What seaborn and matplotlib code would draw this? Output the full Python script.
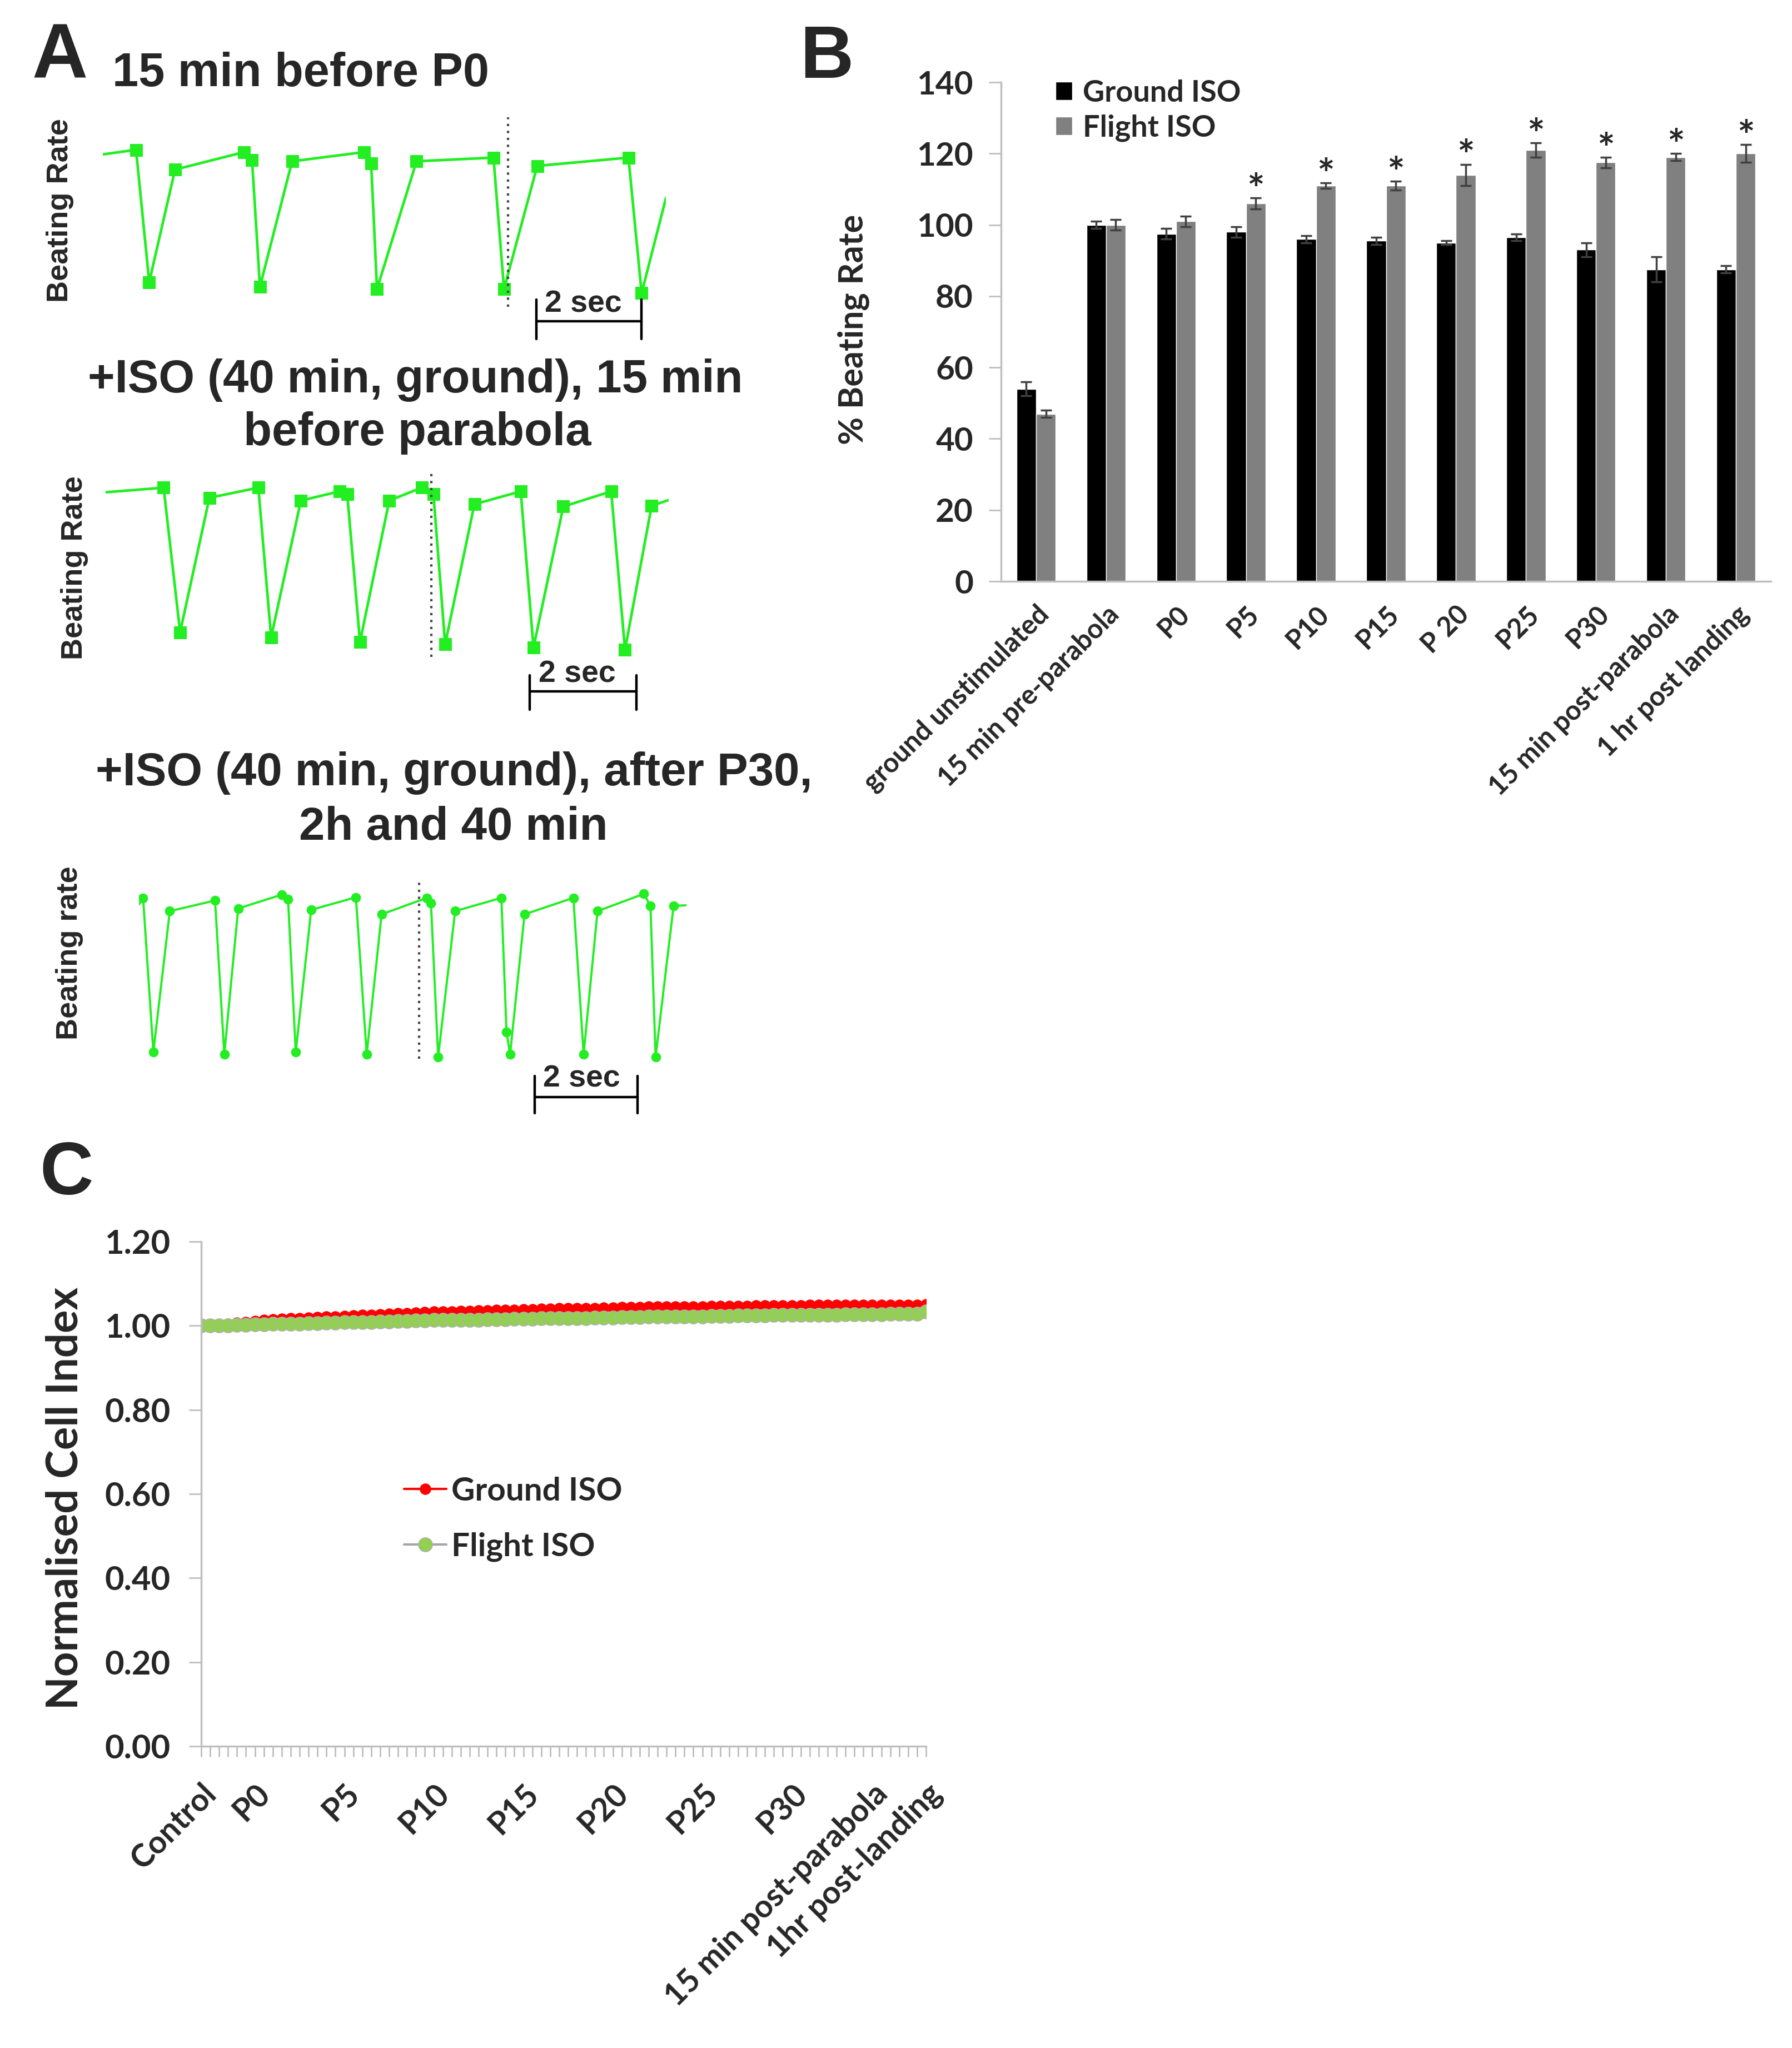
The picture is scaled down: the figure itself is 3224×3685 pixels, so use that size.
import numpy as np
import pandas as pd
import matplotlib
matplotlib.use('Agg')
import matplotlib.pyplot as plt
import seaborn as sns

# ---- panel A: beating-rate traces (time in s, rate in arbitrary units) ----
trace1_time = [0.00, 0.63, 0.88, 1.37, 2.68, 2.83, 2.98, 3.59, 4.96, 5.09, 5.20, 5.95,
               7.41, 7.61, 8.24, 9.97, 10.22, 10.68]
trace1_rate = [365, 375, 88, 332, 370, 353, 78, 350, 370, 345, 73, 350,
               358, 73, 340, 358, 64, 270]

trace2_time = [0.00, 1.09, 1.40, 1.95, 2.87, 3.11, 3.67, 4.40, 4.54, 4.78, 5.33, 5.94,
               6.16, 6.38, 6.93, 7.80, 8.04, 8.60, 9.50, 9.76, 10.26, 10.58]
trace2_rate = [382, 392, 78, 370, 392, 67, 364, 384, 378, 57, 364, 392,
               378, 52, 356, 384, 45, 351, 384, 40, 353, 365]

trace3_time = [0.00, 0.08, 0.28, 0.60, 1.48, 1.66, 1.93, 2.78, 2.90, 3.05, 3.35, 4.22,
               4.43, 4.72, 5.60, 5.68, 5.82, 6.15, 7.05, 7.15, 7.22, 7.50, 8.45, 8.65,
               8.92, 9.82, 9.95, 10.05, 10.40, 10.65]
trace3_rate = [615, 640, 60, 590, 630, 52, 600, 652, 635, 60, 595, 642,
               52, 578, 640, 620, 42, 590, 640, 135, 52, 578, 640, 52,
               590, 655, 610, 42, 610, 612]

trace_titles = [["15 min before P0"],
                ["+ISO (40 min, ground), 15 min", "before parabola"],
                ["+ISO (40 min, ground), after P30,", "2h and 40 min"]]
trace_ylabels = ["Beating Rate", "Beating Rate", "Beating rate"]
parabola_marks = [7.69, 6.12, 5.45]

# ---- panel B: % beating rate ----
categories_b = ["ground unstimulated", "15 min pre-parabola", "P0", "P5", "P10", "P15",
                "P 20", "P25", "P30", "15 min post-parabola", "1 hr post landing"]
ground_rate = [54, 100, 97.5, 98, 96, 95.5, 95, 96.5, 93, 87.5, 87.5]
ground_err = [2, 1, 1.5, 1.5, 1, 1, 0.5, 1, 2, 3.5, 1]
flight_rate = [47, 100, 101, 106, 111, 111, 114, 121, 117.5, 119, 120]
flight_err = [1, 1.5, 1.5, 1.5, 0.8, 1.2, 3, 2, 1.5, 1, 2.5]
significant = ["P5", "P10", "P15", "P 20", "P25", "P30", "15 min post-parabola", "1 hr post landing"]

# ---- panel C: normalised cell index ----
ground_ci = [1.000, 1.001, 1.003, 1.005, 1.007, 1.009, 1.011, 1.013, 1.015, 1.016,
             1.017, 1.018, 1.019, 1.020, 1.021, 1.022, 1.023, 1.024, 1.025, 1.026,
             1.027, 1.028, 1.029, 1.030, 1.031, 1.032, 1.033, 1.034, 1.034, 1.035,
             1.035, 1.036, 1.036, 1.037, 1.038, 1.038, 1.039, 1.039, 1.040, 1.040,
             1.041, 1.041, 1.042, 1.042, 1.042, 1.043, 1.043, 1.044, 1.044, 1.044,
             1.045, 1.045, 1.045, 1.046, 1.046, 1.046, 1.046, 1.047, 1.047, 1.047,
             1.047, 1.047, 1.048, 1.048, 1.048, 1.048, 1.048, 1.048, 1.049, 1.049,
             1.049, 1.049, 1.049, 1.049, 1.049, 1.049, 1.049, 1.050, 1.050, 1.050,
             1.050, 1.051]
flight_ci = [1.000, 1.000, 1.001, 1.001, 1.002, 1.002, 1.003, 1.003, 1.004, 1.004,
             1.005, 1.005, 1.006, 1.006, 1.007, 1.007, 1.008, 1.008, 1.009, 1.009,
             1.010, 1.010, 1.011, 1.011, 1.012, 1.012, 1.013, 1.013, 1.013, 1.014,
             1.014, 1.014, 1.015, 1.015, 1.015, 1.016, 1.016, 1.016, 1.017, 1.017,
             1.017, 1.018, 1.018, 1.018, 1.019, 1.019, 1.019, 1.020, 1.020, 1.020,
             1.021, 1.021, 1.021, 1.022, 1.022, 1.022, 1.022, 1.023, 1.023, 1.023,
             1.024, 1.024, 1.024, 1.024, 1.025, 1.025, 1.025, 1.025, 1.026, 1.026,
             1.026, 1.026, 1.027, 1.027, 1.027, 1.027, 1.027, 1.028, 1.028, 1.028,
             1.028, 1.033]
ci_labels = {0: "Control", 6: "P0", 16: "P5", 26: "P10", 36: "P15", 46: "P20",
             56: "P25", 66: "P30", 75: "15 min post-parabola", 81: "1hr post-landing"}

W, H = 3224, 3685
GREEN = '#22ee22'
AXIS_GREY = '#bfbfbf'
ARIAL = ['Liberation Sans', 'DejaVu Sans']

sns.set_style('white')
plt.rcParams['font.family'] = ['Lato', 'DejaVu Sans']
plt.rcParams['font.weight'] = 'bold'
plt.rcParams['axes.labelweight'] = 'bold'

fig = plt.figure(figsize=(W / 100, H / 100), dpi=100)


def px_rect(x0, y0, x1, y1):
    return [x0 / W, 1 - y1 / H, (x1 - x0) / W, (y1 - y0) / H]


def fig_text(x, y, s, **kw):
    fig.text(x / W, 1 - y / H, s, **kw)


# ------------------------------------------------------------------ A
fig_text(108, 104, "A", fontsize=100, family=ARIAL, ha='center', va='center')

trace_setup = [
    dict(t=trace1_time, v=trace1_rate, rect=(185, 199, 1198, 622), ylim=(-50, 460),
         marker='s', ms=16, lw=3.4, dot=(35, 445), bar=(8.22, 3, 50, -35, 9.11, 8),
         title_xy=[(202, 133)], ylab=(108, 379)),
    dict(t=trace2_time, v=trace2_rate, rect=(190, 846, 1203, 1281), ylim=(-95, 430),
         marker='s', ms=16, lw=3.4, dot=(25, 425), bar=(7.97, -50, -15, -90, 8.86, -45),
         title_xy=[(747, 684), (751, 779)], ylab=(134, 1022)),
    dict(t=trace3_time, v=trace3_rate, rect=(250, 1582, 1235, 2008), ylim=(-180, 710),
         marker='o', ms=12, lw=2.8, dot=(35, 700), bar=(7.70, -110, -30, -170, 8.61, -95),
         title_xy=[(817, 1391), (816, 1489)], ylab=(125, 1715)),
]

for i, cfg in enumerate(trace_setup):
    ax = fig.add_axes(px_rect(*cfg['rect']))
    t, v = cfg['t'], cfg['v']
    sns.lineplot(x=t, y=v, ax=ax, sort=False, estimator=None, color=GREEN, lw=cfg['lw'],
                 marker=cfg['marker'], ms=cfg['ms'], mec=GREEN, mfc=GREEN,
                 markevery=list(range(1, len(t) - 1)))
    ax.set_xlim(0, max(t))
    ax.set_ylim(*cfg['ylim'])
    ax.vlines(parabola_marks[i], cfg['dot'][0], cfg['dot'][1], colors='#444444',
              linestyles=(0, (1, 2)), lw=3)
    # 2 sec scale bar
    b0, bv, btop, bbot, tx, ty = cfg['bar']
    ax.plot([b0, b0 + 2], [bv, bv], color='black', lw=3.2, clip_on=False)
    ax.plot([b0, b0], [btop, bbot], color='black', lw=3.2, clip_on=False)
    ax.plot([b0 + 2, b0 + 2], [btop, bbot], color='black', lw=3.2, clip_on=False)
    ax.text(tx, ty, "2 sec", family=ARIAL, fontsize=40, ha='center', va='bottom')
    ax.axis('off')
    for line, (x, y) in zip(trace_titles[i], cfg['title_xy']):
        fig_text(x, y, line, family=ARIAL, fontsize=61 if i == 0 else 60,
                 ha='left' if i == 0 else 'center', va='center')
    fig_text(cfg['ylab'][0], cfg['ylab'][1], trace_ylabels[i], family=ARIAL, fontsize=39,
             rotation=90, ha='center', va='center')

# ------------------------------------------------------------------ B
fig_text(1487, 106, "B", fontsize=96, family=ARIAL, ha='center', va='center')
ax_b = fig.add_axes(px_rect(1801, 148, 3186, 1046))
n = len(categories_b)
df_b = pd.DataFrame({
    'time': categories_b * 2,
    'group': ['Ground ISO'] * n + ['Flight ISO'] * n,
    'rate': ground_rate + flight_rate,
})
sns.barplot(data=df_b, x='time', y='rate', hue='group', order=categories_b,
            hue_order=['Ground ISO', 'Flight ISO'], palette=['black', '#808080'],
            saturation=1, width=0.56, errorbar=None, ax=ax_b)

for cont, errs in zip(ax_b.containers, [ground_err, flight_err]):
    xs = [bar.get_x() + bar.get_width() / 2 for bar in cont]
    ys = [bar.get_height() for bar in cont]
    ax_b.errorbar(xs, ys, yerr=errs, fmt='none', ecolor='#404040', elinewidth=2.5,
                  capsize=7, capthick=2.5)
flight_bars = list(ax_b.containers[1])
for j, cat in enumerate(categories_b):
    if cat in significant:
        bar = flight_bars[j]
        ax_b.text(bar.get_x() + bar.get_width() / 2, flight_rate[j] + flight_err[j] + 1.8, "*",
                  ha='center', va='center', fontsize=54)

ax_b.set_ylim(0, 140)
ax_b.set_xlim(-0.5, n - 0.5)
ax_b.set_yticks(np.arange(0, 141, 20))
ax_b.set_xticks(range(n))
ax_b.set_xticklabels(categories_b, rotation=45, ha='right', rotation_mode='anchor', fontsize=35)
ax_b.set_xticks(np.arange(-0.5, n, 1), minor=True)
ax_b.tick_params(axis='x', which='major', length=0, pad=26)
ax_b.tick_params(axis='x', which='minor', length=14, width=2, color=AXIS_GREY, direction='out')
ax_b.tick_params(axis='y', length=16, width=2, color=AXIS_GREY, labelsize=42, pad=20,
                 direction='out', left=True)
ax_b.set_xlabel('')
ax_b.set_ylabel('')
for side in ['top', 'right']:
    ax_b.spines[side].set_visible(False)
for side in ['left', 'bottom']:
    ax_b.spines[side].set_color(AXIS_GREY)
    ax_b.spines[side].set_linewidth(2.5)
ax_b.legend(loc='upper left', bbox_to_anchor=(0.055, 1.03), frameon=False, fontsize=39,
            handlelength=0.55, handleheight=0.55, handletextpad=0.35, labelspacing=0.26,
            borderaxespad=0)
fig_text(1535, 593, "% Beating Rate", fontsize=44, rotation=90, ha='center', va='center')

# ------------------------------------------------------------------ C
fig_text(120, 2115, "C", fontsize=96, family=ARIAL, ha='center', va='center')
ax_c = fig.add_axes(px_rect(362, 2234, 1666, 3142))
idx = np.arange(len(ground_ci))
sns.lineplot(x=idx, y=ground_ci, ax=ax_c, estimator=None, color='#ff0000', lw=3,
             marker='o', ms=14, mec='#ff0000', mfc='#ff0000', label='Ground ISO')
sns.lineplot(x=idx, y=flight_ci, ax=ax_c, estimator=None, color='#a6a6a6', lw=3,
             marker='o', ms=18, mec='#b0b0b0', mfc='#92d050', mew=1.2, label='Flight ISO')
ax_c.set_xlim(0, len(idx) - 1)
ax_c.set_ylim(0, 1.2)
ax_c.set_yticks(np.arange(0, 1.21, 0.2))
ax_c.set_yticklabels([f"{y:.2f}" for y in np.arange(0, 1.21, 0.2)])
ax_c.set_xticks(idx)
ax_c.set_xticklabels([ci_labels.get(k, '') for k in idx], rotation=45, ha='right',
                     rotation_mode='anchor', fontsize=41)
ax_c.tick_params(axis='x', length=14, width=2, color=AXIS_GREY, pad=28, direction='out',
                 bottom=True)
ax_c.tick_params(axis='y', length=16, width=2, color=AXIS_GREY, labelsize=43, pad=24,
                 direction='out', left=True)
ax_c.set_xlabel('')
ax_c.set_ylabel('')
for side in ['top', 'right']:
    ax_c.spines[side].set_visible(False)
for side in ['left', 'bottom']:
    ax_c.spines[side].set_color(AXIS_GREY)
    ax_c.spines[side].set_linewidth(2.5)
ax_c.legend(loc='upper left', bbox_to_anchor=(0.262, 0.56), frameon=False, fontsize=42,
            handlelength=1.3, handletextpad=0.15, labelspacing=0.8, borderaxespad=0,
            numpoints=1)
fig_text(117, 2696, "Normalised Cell Index", fontsize=56, rotation=90, ha='center', va='center')

fig.savefig('out.png', dpi=100, facecolor='white')
